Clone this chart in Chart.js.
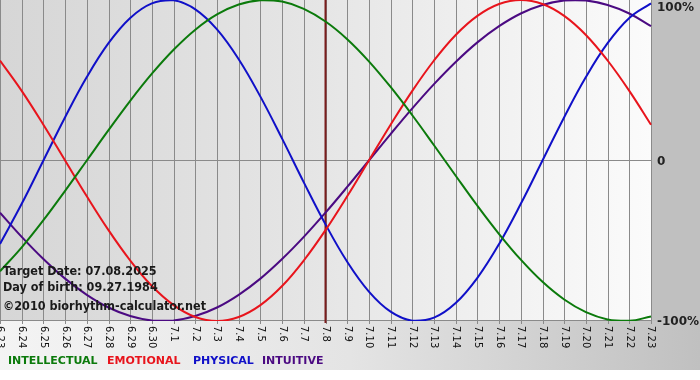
<!DOCTYPE html>
<html>
<head>
<meta charset="utf-8">
<script src="https://cdn.jsdelivr.net/npm/chart.js"></script>
<style>
html, body { margin: 0; padding: 0; background: #fff; }
</style>
</head>
<body>
<canvas id="myChart" width="700" height="380"></canvas>
<script>
// Days shown on the x axis (month.day)
const days = ['6.23', '6.24', '6.25', '6.26', '6.27', '6.28', '6.29', '6.30',
    '7.1', '7.2', '7.3', '7.4', '7.5', '7.6', '7.7', '7.8', '7.9', '7.10',
    '7.11', '7.12', '7.13', '7.14', '7.15', '7.16', '7.17', '7.18', '7.19',
    '7.20', '7.21', '7.22', '7.23'];

// Cycle values in percent, one per day
const intellectual = [-69.0, -54.1, -37.2, -18.9, 0, 18.9, 37.2, 54.1, 69.0, 81.5, 91.0, 97.2, 99.9, 99.0, 94.5, 86.6,
    75.6, 61.8, 45.8, 28.2, 9.5, -9.5, -28.2, -45.8, -61.8, -75.6, -86.6, -94.5, -99.0, -99.9, -97.2];
const emotional = [62.3, 43.4, 22.3, 0, -22.3, -43.4, -62.3, -78.2, -90.1, -97.5, -100, -97.5, -90.1, -78.2, -62.3, -43.4,
    -22.3, 0, 22.3, 43.4, 62.3, 78.2, 90.1, 97.5, 100, 97.5, 90.1, 78.2, 62.3, 43.4, 22.3];
const physical = [-52.0, -27.0, 0, 27.0, 52.0, 73.1, 88.8, 97.9, 99.8, 94.2, 81.7, 63.1, 39.8, 13.6, -13.6, -39.8,
    -63.1, -81.7, -94.2, -99.8, -97.9, -88.8, -73.1, -52.0, -27.0, 0, 27.0, 52.0, 73.1, 88.8, 97.9];
const intuitive = [-32.5, -47.6, -61.4, -73.6, -83.7, -91.6, -96.9, -99.7, -99.7, -96.9, -91.6, -83.7, -73.6, -61.4, -47.6, -32.5,
    -16.5, 0, 16.5, 32.5, 47.6, 61.4, 73.6, 83.7, 91.6, 96.9, 99.7, 99.7, 96.9, 91.6, 83.7];

const yTicks = ['100%', '0', '-100%'];
const targetDay = '7.8';
const infoLines = ['Target Date: 07.08.2025', 'Day of birth: 09.27.1984', '\u00A92010 biorhythm-calculator.net'];
const legendNames = ['INTELLECTUAL', 'EMOTIONAL', 'PHYSICAL', 'INTUITIVE'];
const legendColors = ['#0b7a0b', '#e8141c', '#1010c8', '#4b0a82'];

// Backgrounds, grid and target line behind the curves
const backdrop = {
    id: 'backdrop',
    beforeDraw(chart) {
        const ctx = chart.ctx;
        const a = chart.chartArea;
        ctx.save();
        ctx.fillStyle = '#fff';
        ctx.fillRect(0, 0, 700, 380);

        let g = ctx.createLinearGradient(0, 0, 700, 0);
        g.addColorStop(0, '#f4f4f4');
        g.addColorStop(0.5, '#e4e4e4');
        g.addColorStop(1, '#c0c0c0');
        ctx.fillStyle = g;
        ctx.fillRect(0, a.bottom, 700, 370 - a.bottom);

        ctx.fillStyle = '#c0c0c0';
        ctx.fillRect(a.right, 0, 700 - a.right, a.bottom);

        g = ctx.createLinearGradient(a.left, 0, a.right, 0);
        g.addColorStop(0, '#d6d6d6');
        g.addColorStop(0.5, '#e6e6e6');
        g.addColorStop(1, '#fbfbfb');
        ctx.fillStyle = g;
        ctx.fillRect(a.left, a.top, a.right - a.left, a.bottom - a.top);
        ctx.restore();
    },
    beforeDatasetsDraw(chart) {
        const ctx = chart.ctx;
        const a = chart.chartArea;
        const x = chart.scales.x;
        const y = chart.scales.y;
        ctx.save();
        ctx.strokeStyle = '#8a8a8a';
        ctx.lineWidth = 1;
        days.forEach((d, i) => {
            const px = Math.round(x.getPixelForValue(i)) + 0.5;
            ctx.beginPath();
            ctx.moveTo(px, a.top);
            ctx.lineTo(px, a.bottom + 3);
            ctx.stroke();
        });
        [0, -100].forEach(v => {
            const py = Math.round(y.getPixelForValue(v)) - 0.5;
            ctx.beginPath();
            ctx.moveTo(a.left, py);
            ctx.lineTo(a.right, py);
            ctx.stroke();
        });
        // target day marker
        const tx = x.getPixelForValue(days.indexOf(targetDay));
        ctx.strokeStyle = '#7a1c1c';
        ctx.lineWidth = 2;
        ctx.beginPath();
        ctx.moveTo(tx, a.top);
        ctx.lineTo(tx, a.bottom + 2);
        ctx.stroke();
        ctx.restore();
    },
    afterDraw(chart) {
        const ctx = chart.ctx;
        const a = chart.chartArea;
        const x = chart.scales.x;
        const y = chart.scales.y;
        ctx.save();

        // rotated day labels
        ctx.fillStyle = '#111';
        ctx.font = '10px "DejaVu Sans"';
        ctx.textAlign = 'left';
        ctx.textBaseline = 'middle';
        days.forEach((d, i) => {
            ctx.save();
            ctx.translate(x.getPixelForValue(i), a.bottom + 5);
            ctx.rotate(Math.PI / 2);
            ctx.fillText(d, 0, 0);
            ctx.restore();
        });

        // percent labels on the right
        ctx.font = 'bold 12px "DejaVu Sans"';
        ctx.fillStyle = '#222';
        [100, 0, -100].forEach((v, i) => {
            let py = y.getPixelForValue(v);
            if (v === 100) py += 7;
            ctx.fillText(yTicks[i], a.right + 6, py + 1);
        });

        // info text
        ctx.font = 'bold 12.5px "DejaVu Sans Condensed"';
        ctx.fillStyle = '#1a1a1a';
        const infoY = [272, 288, 307];
        infoLines.forEach((t, i) => ctx.fillText(t, 3, infoY[i]));

        // legend
        ctx.font = 'bold 11px "DejaVu Sans"';
        const legendX = [8, 107, 193, 262];
        legendNames.forEach((n, i) => {
            ctx.fillStyle = legendColors[i];
            ctx.fillText(n, legendX[i], 361);
        });
        ctx.restore();
    }
};

function makeSet(data, color) {
    return {
        data: data,
        borderColor: color,
        borderWidth: 2,
        pointRadius: 0,
        tension: 0.4,
        fill: false
    };
}

// Create the biorhythm line chart
function createChart() {
    const ctx = document.getElementById('myChart').getContext('2d');
    new Chart(ctx, {
        type: 'line',
        data: {
            labels: days,
            datasets: [
                makeSet(intellectual, legendColors[0]),
                makeSet(emotional, legendColors[1]),
                makeSet(physical, legendColors[2]),
                makeSet(intuitive, legendColors[3])
            ]
        },
        options: {
            responsive: false,
            animation: false,
            layout: { padding: { left: 0, top: 0, right: 49, bottom: 59 } },
            plugins: { legend: { display: false }, tooltip: { enabled: false } },
            scales: {
                x: { display: false, offset: false },
                y: { display: false, min: -100, max: 100 }
            }
        },
        plugins: [backdrop]
    });
}

createChart();
</script>
</body>
</html>
